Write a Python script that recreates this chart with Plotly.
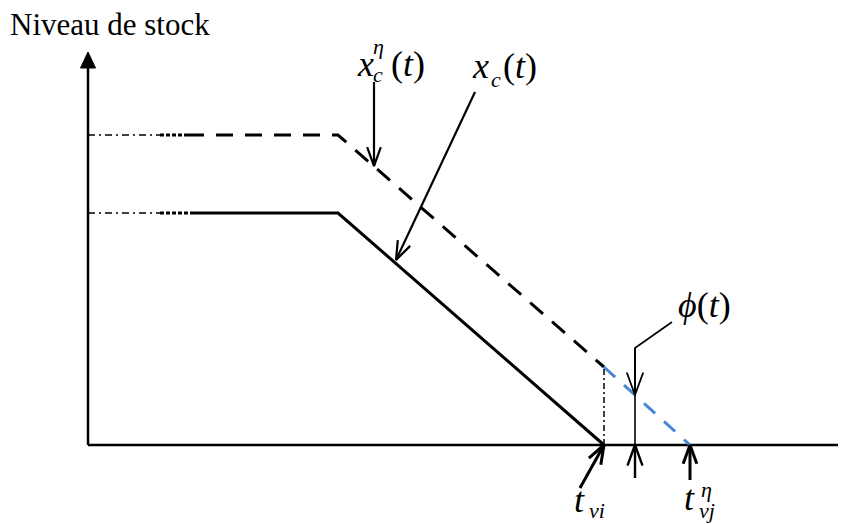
import math
import plotly.graph_objects as go

# ---------------- data (time axis units / stock level units) ----------------
# solid curve x_c(t)
xc_t = [0, 72, 104, 250, 516]
xc_v = [232, 232, 232, 232, 0]
# dashed curve x_c^eta(t)
xe_t = [0, 72, 99, 250, 516, 602]
xe_v = [310, 310, 310, 310, 78, 0]
# special instants
t_vi = 516
t_vj_eta = 602
t_phi = 547
phi_level = 50

# page body has an 8px margin: figure is drawn 8px in from the window corner
PAGE = 8
W, H = 846 - PAGE, 524 - PAGE
X0, Y0 = 88, 445  # origin position in the window picture

fig = go.Figure()


def seg(xs, ys, color="black", width=3, dash="solid"):
    fig.add_trace(go.Scatter(x=xs, y=ys, mode="lines",
                             line=dict(color=color, width=width, dash=dash),
                             hoverinfo="skip", showlegend=False))


def v_arrow(tail, tip, width=2.2, head=20, ang=20):
    dx, dy = tip[0] - tail[0], tip[1] - tail[1]
    L = math.hypot(dx, dy)
    ux, uy = dx / L, dy / L
    a = math.radians(ang)
    wings = []
    for s in (1, -1):
        c, sn = math.cos(s * a), math.sin(s * a)
        rx, ry = ux * c - uy * sn, ux * sn + uy * c
        wings.append((tip[0] - head * rx, tip[1] - head * ry))
    seg([tail[0], tip[0]], [tail[1], tip[1]], width=width)
    seg([wings[0][0], tip[0], wings[1][0]], [wings[0][1], tip[1], wings[1][1]], width=width)


def tri(tip, base_c, half):
    dx, dy = tip[0] - base_c[0], tip[1] - base_c[1]
    L = math.hypot(dx, dy)
    nx, ny = -dy / L, dx / L
    xs = [tip[0], base_c[0] + half * nx, base_c[0] - half * nx, tip[0]]
    ys = [tip[1], base_c[1] + half * ny, base_c[1] - half * ny, tip[1]]
    fig.add_trace(go.Scatter(x=xs, y=ys, mode="lines", fill="toself",
                             fillcolor="black", line=dict(color="black", width=1),
                             hoverinfo="skip", showlegend=False))


# axes
seg([0, 0], [0, 378], width=2.5)
tri((0, 393), (0, 377), 7.5)
seg([0, 756], [0, 0], width=2.5)
tri((770, 0), (754, 0), 7.5)

# x_c^eta(t) dashed
seg(xe_t[0:2], xe_v[0:2], width=1.5, dash="7px,4px,2px,4px")
seg(xe_t[1:3], xe_v[1:3], width=3, dash="4px,2px")
seg(xe_t[2:5], xe_v[2:5], width=3, dash="17px,12px")
seg(xe_t[4:6], xe_v[4:6], color="#4a86d6", width=3, dash="15px,12px")

# x_c(t) solid
seg(xc_t[0:2], xc_v[0:2], width=1.5, dash="7px,4px,2px,4px")
seg(xc_t[1:3], xc_v[1:3], width=3, dash="4px,2px")
seg(xc_t[2:5], xc_v[2:5], width=3)

# vertical dash-dot at t_vi
seg([t_vi, t_vi], [0, xe_v[4]], width=1.5, dash="6px,3px,2px,3px")

# annotation arrows
v_arrow((286, 363), (286, 279))
v_arrow((387, 353), (308, 185))
seg([584, t_phi, t_phi], [123, 97, 0], width=1.6)
v_arrow((t_phi, 97), (t_phi, phi_level), width=1.8, head=24)
v_arrow((t_phi, -33), (t_phi, 0), width=2.4, head=22)
v_arrow((492, -43), (t_vi, 0), width=3, head=20)
v_arrow((t_vj_eta, -35), (t_vj_eta, 0), width=3, head=20)

FONT = "Liberation Serif"


def txt(px, py, text, size, anchor="left"):
    fig.add_annotation(x=px - X0, y=Y0 - py, text=text, showarrow=False,
                       xanchor=anchor, yanchor="middle",
                       font=dict(family=FONT, size=size, color="black"))


txt(8, 24, "Niveau de stock", 31)
# x_c^eta(t)
txt(355, 64, "<i>x</i>", 36)
txt(371, 46, "<i>η</i>", 22)
txt(371, 74, "<i>c</i>", 22)
txt(389, 64, "(<i>t</i>)", 36)
# x_c(t)
txt(470, 66, "<i>x</i>", 36)
txt(489, 79, "<i>c</i>", 22)
txt(501, 66, "(<i>t</i>)", 36)
# phi(t)
txt(676, 305, "<i>ϕ</i>(<i>t</i>)", 36)
# t_vi
txt(572, 500, "<i>t</i>", 36)
txt(587, 510, "<i>vi</i>", 22)
# t_vj^eta
txt(682, 498, "<i>t</i>", 36)
txt(699, 489, "<i>η</i>", 22)
txt(697, 510, "<i>vj</i>", 22)

fig.update_layout(
    width=W, height=H, margin=dict(l=0, r=0, t=0, b=0),
    paper_bgcolor="white", plot_bgcolor="white",
    xaxis=dict(range=[-(X0 - PAGE), W - (X0 - PAGE)], visible=False, fixedrange=True),
    yaxis=dict(range=[(Y0 - PAGE) - H, Y0 - PAGE], visible=False, fixedrange=True),
    showlegend=False,
)
fig.write_html("out.html")
